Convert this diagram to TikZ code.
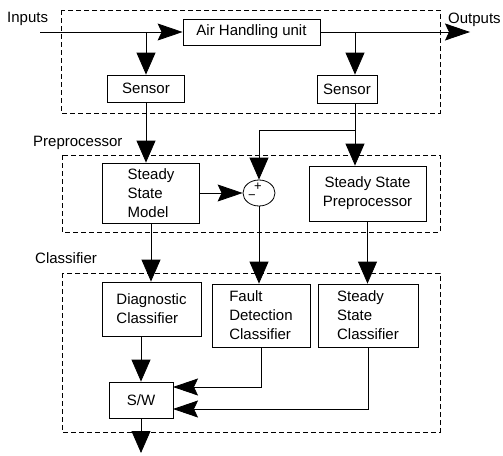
\documentclass[tikz,border=0pt]{standalone}
\usepackage{fontspec}
\setmainfont{Liberation Sans}
\usetikzlibrary{arrows.meta,shapes.geometric}

\begin{document}
\begin{tikzpicture}[x=1pt,y=-1pt,
    font=\fontsize{15}{19}\selectfont,
    box/.style={draw, line width=0.8pt, inner sep=0pt, align=left},
    region/.style={draw, line width=0.5pt, dash pattern=on 5pt off 3pt},
    arr/.style={line width=0.8pt, -{Triangle[length=22pt,width=19pt]}},
    arrh/.style={line width=0.8pt, -{Stealth[length=25pt,width=17pt,inset=4pt]}},
    lbl/.style={anchor=west, inner sep=0pt},
    sign/.style={inner sep=0pt, font=\fontsize{13}{13}\selectfont}]
  \useasboundingbox (0,0) rectangle (503,455);

  \draw[region] (61,10) rectangle (440,113);
  \draw[region] (62,155) rectangle (440,232);
  \draw[region] (62,273) rectangle (440,432);

  \node[lbl] (inLbl) at (7,19) {Inputs};
  \node[lbl] (outLbl) at (448,20) {Outputs};
  \node[lbl] (preLbl) at (33,143) {Preprocessor};
  \node[lbl] (clsLbl) at (35,258) {Classifier};

  \node[box, minimum width=137pt, minimum height=26pt] (ahu) at (251.5,32) {Air Handling unit};
  \node[box, minimum width=77pt, minimum height=27pt] (sensA) at (146,88.5) {Sensor};
  \node[box, minimum width=60pt, minimum height=28pt] (sensB) at (347,89) {Sensor};

  \node[box, minimum width=97pt, minimum height=60pt] (ssm) at (151,193) {Steady\\State\\Model};
  \node[draw, ellipse, line width=0.8pt, minimum width=32pt, minimum height=26pt, inner sep=0pt] (sum) at (259,193) {};
  \node[sign] (plus) at (258,187) {+};
  \node[sign] (minus) at (252,197) {−};
  \node[box, align=center, minimum width=117pt, minimum height=55pt] (ssp) at (367.5,193.5) {Steady State\\Preprocessor};

  \node[box, minimum width=99pt, minimum height=54pt] (diag) at (151.5,309) {Diagnostic\\Classifier};
  \node[box, minimum width=98pt, minimum height=63pt] (fdc) at (261,315.5) {Fault\\Detection\\Classifier};
  \node[box, minimum width=100pt, minimum height=63pt] (ssc) at (368,315.5) {Steady\\State\\Classifier};
  \node[box, minimum width=64pt, minimum height=36pt] (sw) at (141,400) {S/W};

  \coordinate (in) at (40,32);
  \coordinate (out) at (470,32);
  \coordinate (tapB) at (355,32);
  \coordinate (tapC) at (355,130);
  \coordinate (swA) at (173,387);
  \coordinate (swB) at (173,409);
  \coordinate (swOut) at (141,453);

  \draw[arrh] (in) -- (ahu.west);
  \draw[arrh] (ahu.east) -- (out);
  \draw[arr] (sensA.north |- in) -- (sensA.north);
  \draw[arr] (tapB) -- (tapB |- sensB.north);
  \draw[arr] (sensA.south) -- (sensA.south |- ssm.north);
  \draw[arr] (tapB |- sensB.south) -- (tapB |- ssp.north);
  \draw[arr] (tapC) -| (sum.north);
  \draw[arrh] (ssm.east) -- (sum.west);
  \draw[arr] (sum.south) -- (sum.south |- fdc.north);
  \draw[arr] (ssp.south) -- (ssp.south |- ssc.north);
  \draw[arr] (ssm.south) -- (ssm.south |- diag.north);
  \draw[arr] (diag.south -| sw.north) -- (sw.north);
  \draw[arrh] (fdc.south) |- (swA);
  \draw[arrh] (ssc.south) |- (swB);
  \draw[arr] (sw.south) -- (swOut);
\end{tikzpicture}
\end{document}
